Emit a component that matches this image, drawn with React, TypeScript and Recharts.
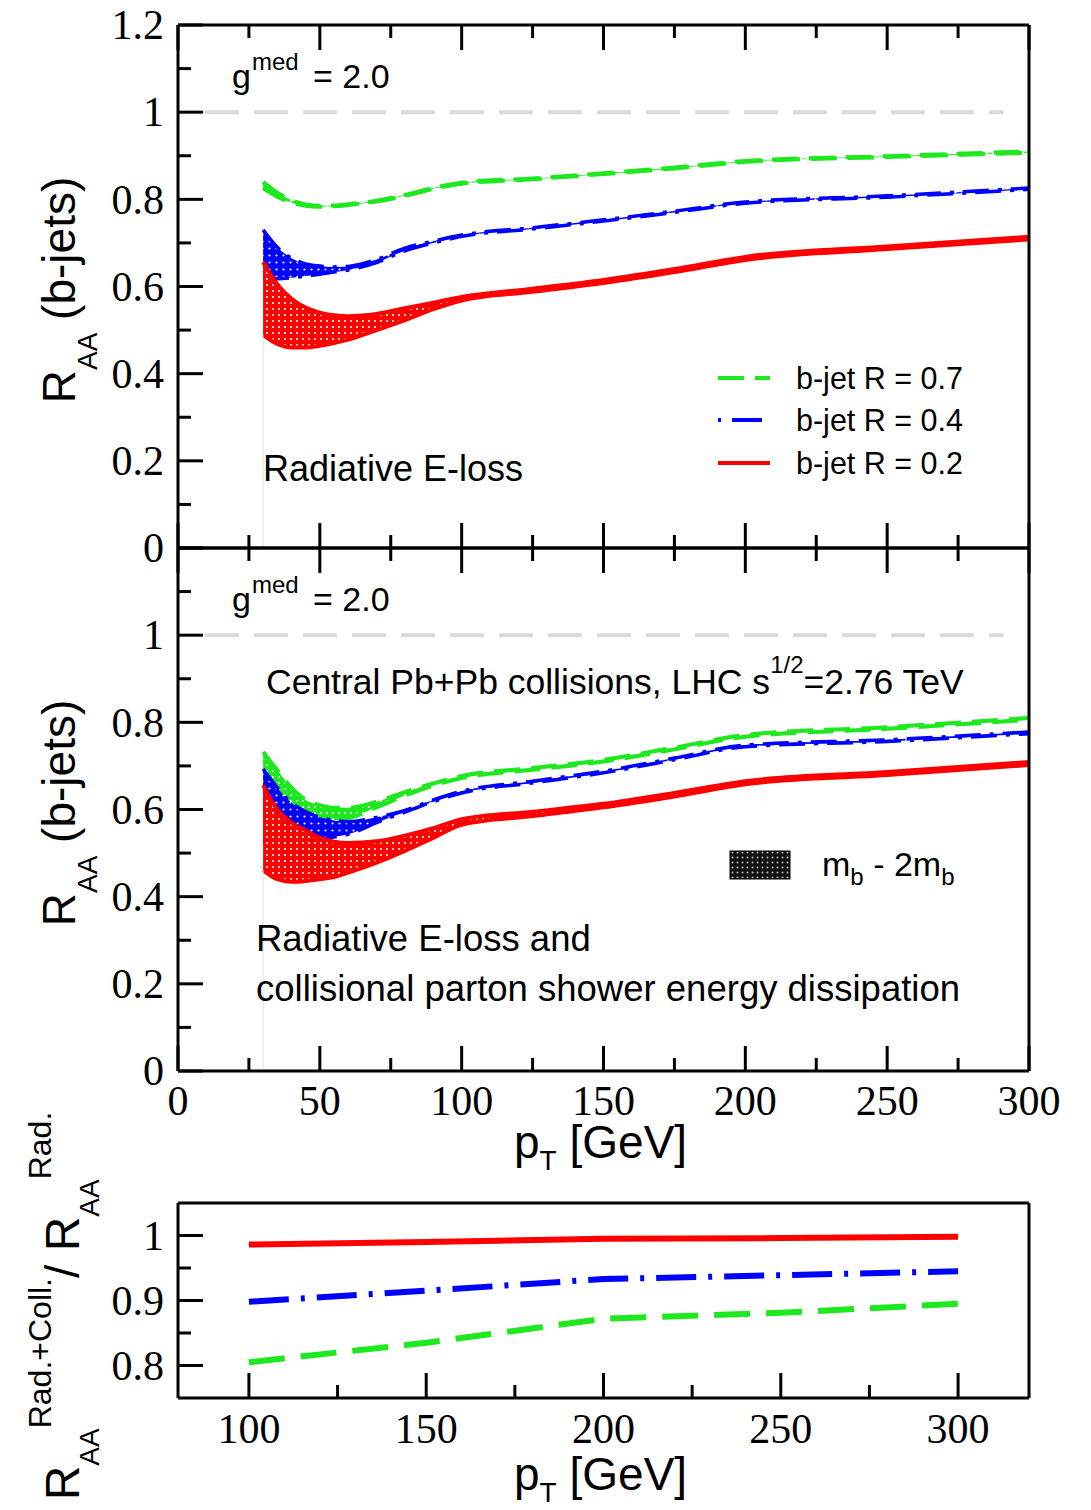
import { ComposedChart, Area, Line, XAxis, YAxis, ReferenceLine } from 'recharts'

// p_T grid of the bands [GeV]
const pt = [30, 35, 40, 45, 50, 55, 60, 70, 80, 90, 100, 125, 150, 175, 200, 250, 300]

// radiative E-loss only (upper panel), m_b .. 2m_b bands
const radGreenHi = [0.840, 0.815, 0.798, 0.788, 0.785, 0.786, 0.789, 0.797, 0.810, 0.826, 0.838, 0.848, 0.860, 0.873, 0.888, 0.899, 0.910]
const radGreenLo = [0.826, 0.806, 0.793, 0.785, 0.783, 0.784, 0.787, 0.795, 0.808, 0.824, 0.836, 0.846, 0.858, 0.871, 0.886, 0.897, 0.907]
const radBlueHi = [0.730, 0.690, 0.665, 0.652, 0.647, 0.645, 0.646, 0.662, 0.688, 0.704, 0.718, 0.735, 0.753, 0.773, 0.794, 0.808, 0.826]
const radBlueLo = [0.620, 0.618, 0.620, 0.624, 0.628, 0.633, 0.638, 0.655, 0.682, 0.700, 0.715, 0.732, 0.750, 0.770, 0.791, 0.805, 0.823]
const radRedHi = [0.656, 0.605, 0.572, 0.552, 0.540, 0.534, 0.532, 0.537, 0.550, 0.563, 0.576, 0.595, 0.615, 0.640, 0.668, 0.692, 0.714]
const radRedLo = [0.489, 0.468, 0.460, 0.460, 0.464, 0.470, 0.478, 0.500, 0.523, 0.548, 0.568, 0.588, 0.608, 0.633, 0.661, 0.686, 0.708]

// radiative + collisional (middle panel)
const collGreenHi = [0.732, 0.690, 0.650, 0.622, 0.610, 0.604, 0.604, 0.618, 0.640, 0.660, 0.677, 0.695, 0.714, 0.742, 0.771, 0.789, 0.810]
const collGreenLo = [0.570, 0.572, 0.574, 0.575, 0.575, 0.576, 0.580, 0.605, 0.632, 0.655, 0.672, 0.691, 0.710, 0.738, 0.767, 0.785, 0.806]
const collBlueHi = [0.693, 0.650, 0.615, 0.595, 0.582, 0.575, 0.572, 0.582, 0.598, 0.622, 0.642, 0.665, 0.688, 0.718, 0.748, 0.760, 0.778]
const collBlueLo = [0.525, 0.525, 0.527, 0.528, 0.530, 0.537, 0.543, 0.570, 0.594, 0.618, 0.638, 0.661, 0.684, 0.714, 0.744, 0.756, 0.774]
const collRedHi = [0.656, 0.600, 0.570, 0.552, 0.535, 0.526, 0.523, 0.527, 0.540, 0.557, 0.578, 0.595, 0.613, 0.638, 0.665, 0.686, 0.709]
const collRedLo = [0.461, 0.440, 0.434, 0.436, 0.440, 0.445, 0.455, 0.478, 0.505, 0.535, 0.565, 0.585, 0.605, 0.630, 0.658, 0.679, 0.702]

// ratio panel
const ratioPt = [100, 150, 200, 250, 300]
const ratioRed = [0.986, 0.990, 0.995, 0.996, 0.998]
const ratioBlue = [0.898, 0.915, 0.933, 0.939, 0.945]
const ratioGreen = [0.805, 0.835, 0.872, 0.881, 0.895]

// ticks
const xTicks = [0, 25, 50, 75, 100, 125, 150, 175, 200, 225, 250, 275, 300]
const yTicks = [0, 0.1, 0.2, 0.3, 0.4, 0.5, 0.6, 0.7, 0.8, 0.9, 1, 1.1, 1.2]
const ratioXTicks = [100, 125, 150, 175, 200, 225, 250, 275, 300]
const ratioYTicks = [0.8, 0.85, 0.9, 0.95, 1]

const SERIF = '"Liberation Serif", "Times New Roman", serif'
const SANS = '"Liberation Sans", Arial, Helvetica, sans-serif'
const GREEN = '#1ee81e'
const BLUE = '#0000ff'
const RED = '#ff0000'
const GREEN_DASH = '26 11'
const BLUE_DASH = '26 9 4 9'
const AXIS_LINE = { stroke: '#000', strokeWidth: 3 }

type Side = 'left' | 'right' | 'top' | 'bottom'

function axisTick(
  side: Side,
  isMajor: (v: number) => boolean,
  label: ((v: number) => string | null) | null,
  labelOffset = 44,
) {
  return (p: any) => {
    const x = Number(p.x)
    const y = Number(p.y)
    const v = Number(p.payload.value)
    const len = isMajor(v) ? 25 : 13
    let x2 = x
    let y2 = y
    if (side === 'left') x2 = x + len
    if (side === 'right') x2 = x - len
    if (side === 'top') y2 = y + len
    if (side === 'bottom') y2 = y - len
    const t = label ? label(v) : null
    return (
      <g>
        <line x1={x} y1={y} x2={x2} y2={y2} stroke="#000" strokeWidth={3} />
        {t !== null && side === 'left' && (
          <text x={x - 14} y={y} dy="0.34em" textAnchor="end" fontFamily={SERIF} fontSize={42} fill="#000">
            {t}
          </text>
        )}
        {t !== null && side === 'bottom' && (
          <text x={x} y={y + labelOffset} textAnchor="middle" fontFamily={SERIF} fontSize={42} fill="#000">
            {t}
          </text>
        )}
      </g>
    )
  }
}

const majorY = (v: number) => Math.round(v * 10) % 2 === 0
const majorX = (v: number) => Math.round(v) % 50 === 0
const majorRatioY = (v: number) => Math.round(v * 100) % 10 === 0
const fmtY = (v: number) => (v === 0 ? '0' : v === 1 ? '1' : v.toFixed(1))

function dotPattern(id: string, color: string, step: number) {
  return (
    <pattern id={id} width={step} height={step} patternUnits="userSpaceOnUse">
      <rect width={step} height={step} fill={color} />
      <circle cx={step / 2} cy={step / 2} r={1.1} fill="#fff" />
    </pattern>
  )
}

interface BandPanelProps {
  id: string
  top: number
  height: number
  marginTop: number
  marginBottom: number
  gHi: number[]
  gLo: number[]
  bHi: number[]
  bLo: number[]
  rHi: number[]
  rLo: number[]
  topLabel: boolean
  xLabels: boolean
}

function BandPanel(props: BandPanelProps) {
  const { id, gHi, gLo, bHi, bLo, rHi, rLo } = props
  const data = pt.map((x, i) => ({
    pt: x,
    gHi: gHi[i],
    gLo: gLo[i],
    bHi: bHi[i],
    bLo: bLo[i],
    rHi: rHi[i],
    rLo: rLo[i],
  }))
  const yLabel = (v: number) => {
    if (!majorY(v)) return null
    if (v > 1.1 && !props.topLabel) return null
    return fmtY(v)
  }
  return (
    <div style={{ position: 'absolute', left: 0, top: props.top }}>
      <ComposedChart
        width={1091}
        height={props.height}
        data={data}
        margin={{ top: props.marginTop, right: 61, bottom: props.marginBottom, left: 177 }}
      >
        <defs>
          {dotPattern(id + 'g', GREEN, 6)}
          {dotPattern(id + 'b', BLUE, 7)}
          {dotPattern(id + 'r', RED, 6)}
        </defs>
        <XAxis
          dataKey="pt"
          type="number"
          domain={[0, 300]}
          ticks={xTicks}
          interval={0}
          height={1}
          tickSize={0}
          tickMargin={0}
          tickLine={false}
          axisLine={AXIS_LINE}
          tick={axisTick('bottom', majorX, props.xLabels ? (v) => (majorX(v) ? String(v) : null) : null)}
        />
        <XAxis
          xAxisId="top"
          orientation="top"
          dataKey="pt"
          type="number"
          domain={[0, 300]}
          ticks={xTicks}
          interval={0}
          height={1}
          tickSize={0}
          tickMargin={0}
          tickLine={false}
          axisLine={AXIS_LINE}
          tick={axisTick('top', majorX, null)}
        />
        <YAxis
          type="number"
          domain={[0, 1.2]}
          ticks={yTicks}
          interval={0}
          width={1}
          tickSize={0}
          tickMargin={0}
          tickLine={false}
          axisLine={AXIS_LINE}
          tick={axisTick('left', majorY, yLabel)}
        />
        <YAxis
          yAxisId="right"
          orientation="right"
          type="number"
          domain={[0, 1.2]}
          ticks={yTicks}
          interval={0}
          width={1}
          tickSize={0}
          tickMargin={0}
          tickLine={false}
          axisLine={AXIS_LINE}
          tick={axisTick('right', majorY, null)}
        />
        <ReferenceLine
          segment={[{ x: 9.5, y: 1 }, { x: 291, y: 1 }]}
          stroke="#dadada"
          strokeWidth={4}
          strokeDasharray="34 15"
        />
        <ReferenceLine
          segment={[{ x: 30, y: 0 }, { x: 30, y: rLo[0] }]}
          stroke="#e2e2e2"
          strokeWidth={1}
        />
        <Area
          type="monotone"
          dataKey={(d: any) => [d.gLo, d.gHi]}
          stroke={GREEN}
          strokeWidth={4}
          strokeDasharray={GREEN_DASH}
          fill={`url(#${id}g)`}
          fillOpacity={1}
          dot={false}
          activeDot={false}
          isAnimationActive={false}
        />
        <Area
          type="monotone"
          dataKey={(d: any) => [d.bLo, d.bHi]}
          stroke={BLUE}
          strokeWidth={3.5}
          strokeDasharray={BLUE_DASH}
          fill={`url(#${id}b)`}
          fillOpacity={1}
          dot={false}
          activeDot={false}
          isAnimationActive={false}
        />
        <Area
          type="monotone"
          dataKey={(d: any) => [d.rLo, d.rHi]}
          stroke={RED}
          strokeWidth={4}
          fill={`url(#${id}r)`}
          fillOpacity={1}
          dot={false}
          activeDot={false}
          isAnimationActive={false}
        />
      </ComposedChart>
    </div>
  )
}

function RatioPanel() {
  const data = ratioPt.map((x, i) => ({ pt: x, red: ratioRed[i], blue: ratioBlue[i], green: ratioGreen[i] }))
  return (
    <div style={{ position: 'absolute', left: 0, top: 1180 }}>
      <ComposedChart
        width={1091}
        height={280}
        data={data}
        margin={{ top: 22, right: 61, bottom: 61, left: 177 }}
      >
        <XAxis
          dataKey="pt"
          type="number"
          domain={[80, 320]}
          ticks={ratioXTicks}
          interval={0}
          height={1}
          tickSize={0}
          tickMargin={0}
          tickLine={false}
          axisLine={AXIS_LINE}
          tick={axisTick('bottom', majorX, (v) => (majorX(v) ? String(v) : null), 45)}
        />
        <XAxis
          xAxisId="top"
          orientation="top"
          dataKey="pt"
          type="number"
          domain={[80, 320]}
          height={1}
          tick={false}
          tickLine={false}
          axisLine={AXIS_LINE}
        />
        <YAxis
          type="number"
          domain={[0.75, 1.05]}
          ticks={ratioYTicks}
          interval={0}
          width={1}
          tickSize={0}
          tickMargin={0}
          tickLine={false}
          axisLine={AXIS_LINE}
          tick={axisTick('left', majorRatioY, (v) => (majorRatioY(v) ? fmtY(v) : null))}
        />
        <YAxis
          yAxisId="right"
          orientation="right"
          type="number"
          domain={[0.75, 1.05]}
          width={1}
          tick={false}
          tickLine={false}
          axisLine={AXIS_LINE}
        />
        <Line type="linear" dataKey="red" stroke={RED} strokeWidth={6} dot={false} activeDot={false} isAnimationActive={false} />
        <Line type="linear" dataKey="blue" stroke={BLUE} strokeWidth={6} strokeDasharray="40 12 4 12" dot={false} activeDot={false} isAnimationActive={false} />
        <Line type="linear" dataKey="green" stroke={GREEN} strokeWidth={6} strokeDasharray="36 16" dot={false} activeDot={false} isAnimationActive={false} />
      </ComposedChart>
    </div>
  )
}

function Annotations() {
  const sans = { fontFamily: SANS, fill: '#000' }
  return (
    <svg
      width={1091}
      height={1510}
      style={{ position: 'absolute', left: 0, top: 0, pointerEvents: 'none' }}
    >
      <defs>
        <pattern id="legendDots" width={5} height={5} patternUnits="userSpaceOnUse">
          <rect width={5} height={5} fill="#111" />
          <circle cx={2.5} cy={2.5} r={1} fill="#bbb" />
        </pattern>
      </defs>

      {/* g^med labels */}
      {[0, 523].map((dy) => (
        <text key={dy} {...sans} fontSize={34}>
          <tspan x={232} y={88 + dy}>g</tspan>
          <tspan x={252} y={70 + dy} fontSize={24}>med</tspan>
          <tspan x={313} y={88 + dy}>= 2.0</tspan>
        </text>
      ))}

      <text x={263} y={481} {...sans} fontSize={36}>Radiative E-loss</text>

      {/* legend */}
      <line x1={718} y1={378} x2={770} y2={378} stroke={GREEN} strokeWidth={4} strokeDasharray="26 11" />
      <line x1={718} y1={420} x2={770} y2={420} stroke={BLUE} strokeWidth={4} strokeDasharray="3 11 30 9" />
      <line x1={718} y1={463} x2={770} y2={463} stroke={RED} strokeWidth={4} />
      <text x={796} y={389} {...sans} fontSize={30.5}>b-jet R = 0.7</text>
      <text x={796} y={431} {...sans} fontSize={30.5}>b-jet R = 0.4</text>
      <text x={796} y={474} {...sans} fontSize={30.5}>b-jet R = 0.2</text>

      <text {...sans} fontSize={35.5}>
        <tspan x={266} y={694}>Central Pb+Pb collisions, LHC s</tspan>
        <tspan dy={-21} fontSize={24}>1/2</tspan>
        <tspan dy={21}>=2.76 TeV</tspan>
      </text>

      <rect x={730} y={851} width={60} height={28} fill="url(#legendDots)" stroke="#000" strokeWidth={1} />
      <text {...sans} fontSize={34} x={822} y={876}>
        m<tspan dy={9} fontSize={24}>b</tspan>
        <tspan dy={-9}> - 2m</tspan>
        <tspan dy={9} fontSize={24}>b</tspan>
      </text>

      <text x={256} y={951} {...sans} fontSize={36.5}>Radiative E-loss and</text>
      <text x={256} y={1001} {...sans} fontSize={36.5}>collisional parton shower energy dissipation</text>

      {/* axis titles */}
      {[290, 813].map((cy) => (
        <text key={cy} {...sans} fontSize={46} textAnchor="middle" transform={`translate(75 ${cy}) rotate(-90)`}>
          <tspan>R</tspan>
          <tspan dy={22} fontSize={28}>AA</tspan>
          <tspan dy={-22}> (b-jets)</tspan>
        </text>
      ))}
      {[1158, 1490].map((by) => (
        <text key={by} {...sans} fontSize={46} x={514} y={by}>
          p<tspan dy={12} fontSize={28}>T</tspan>
          <tspan dy={-12}> [GeV]</tspan>
        </text>
      ))}
      <text {...sans} fontSize={48} textAnchor="middle" transform="translate(79 1306) rotate(-90)">
        <tspan>R</tspan>
        <tspan dy={20} fontSize={28}>AA</tspan>
        <tspan dy={-48} fontSize={32}>Rad.+Coll.</tspan>
        <tspan dy={28}>/ R</tspan>
        <tspan dy={20} fontSize={28}>AA</tspan>
        <tspan dy={-48} fontSize={32}>Rad.</tspan>
      </text>
    </svg>
  )
}

export default function App() {
  return (
    <div style={{ position: 'absolute', left: 0, top: 0, width: 1091, height: 1510, background: '#fff' }}>
      <BandPanel
        id="rad"
        top={0}
        height={580}
        marginTop={24}
        marginBottom={31}
        gHi={radGreenHi}
        gLo={radGreenLo}
        bHi={radBlueHi}
        bLo={radBlueLo}
        rHi={radRedHi}
        rLo={radRedLo}
        topLabel={true}
        xLabels={false}
      />
      <BandPanel
        id="coll"
        top={540}
        height={600}
        marginTop={7}
        marginBottom={68}
        gHi={collGreenHi}
        gLo={collGreenLo}
        bHi={collBlueHi}
        bLo={collBlueLo}
        rHi={collRedHi}
        rLo={collRedLo}
        topLabel={false}
        xLabels={true}
      />
      <RatioPanel />
      <Annotations />
    </div>
  )
}
